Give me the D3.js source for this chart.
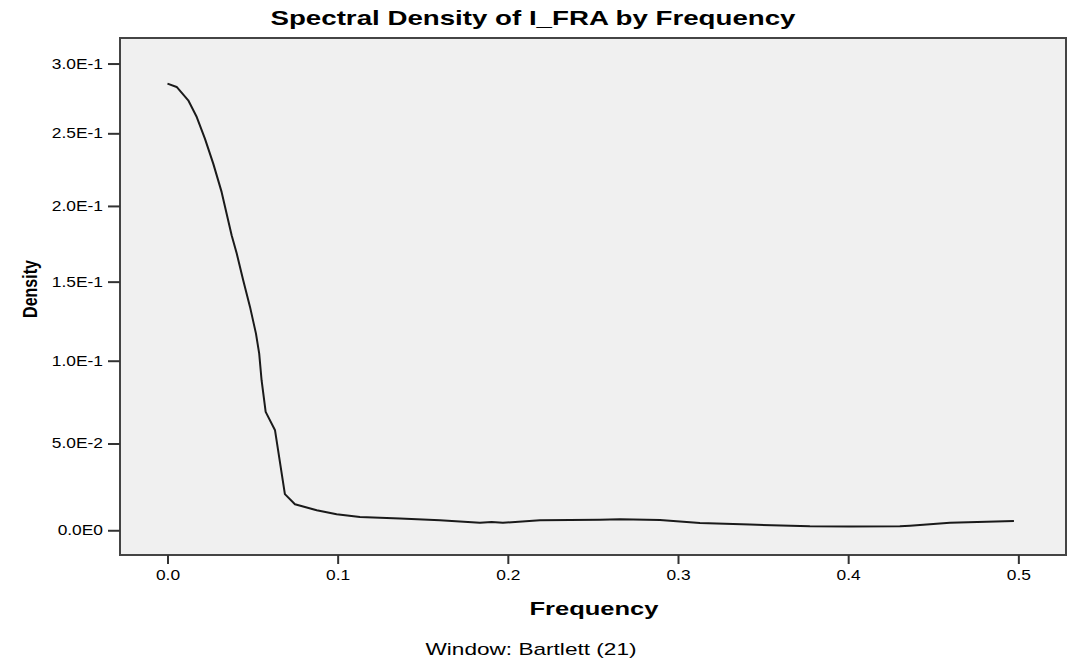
<!DOCTYPE html>
<html>
<head>
<meta charset="utf-8">
<style>
  body { margin: 0; background: #fff; }
  text { font-family: "Liberation Sans", Arial, sans-serif; fill: #000; }
</style>
</head>
<body>
<svg width="1067" height="663"></svg>
<script src="https://d3js.org/d3.v7.min.js"></script>
<script>
// values
var frequency = [0.000, 0.0054, 0.0122, 0.0172, 0.0220, 0.0269, 0.0318, 0.0377, 0.0407, 0.0445,
                 0.0485, 0.0520, 0.0539, 0.0553, 0.0577, 0.0632, 0.0690, 0.0749, 0.0877, 0.0994,
                 0.1131, 0.1366, 0.1601, 0.1836, 0.1905, 0.1971, 0.2189, 0.2541, 0.2659, 0.2894,
                 0.3129, 0.3422, 0.3775, 0.4010, 0.4304, 0.4363, 0.4598, 0.4974];
var density = [0.2854, 0.2830, 0.2734, 0.2615, 0.2463, 0.2289, 0.2095, 0.1804, 0.1683, 0.1509,
               0.1338, 0.1169, 0.1044, 0.0880, 0.0688, 0.0578, 0.0205, 0.0147, 0.0113, 0.0090,
               0.0075, 0.0066, 0.0056, 0.0042, 0.0047, 0.0042, 0.0056, 0.0060, 0.0062, 0.0058,
               0.0041, 0.0032, 0.0022, 0.0021, 0.0022, 0.0026, 0.0043, 0.0052];
var xTicks = [0, 0.1, 0.2, 0.3, 0.4, 0.5];
var xTickLabels = ["0.0", "0.1", "0.2", "0.3", "0.4", "0.5"];
var yTicks = [0, 0.05, 0.1, 0.15, 0.2, 0.25, 0.3];
var yTickLabels = ["0.0E0", "5.0E-2", "1.0E-1", "1.5E-1", "2.0E-1", "2.5E-1", "3.0E-1"];

var svg = d3.select("svg");
var plot = {left: 120, top: 38, right: 1066, bottom: 555};

var x = d3.scaleLinear().domain([-0.0279, 0.528]).range([plot.left, plot.right]);
var y = d3.scaleSymlog().constant(1).domain([-0.014, 0.3188]).range([plot.bottom, plot.top]);

// widen text a bit, the reference is stretched sideways
function widen(sel, k) {
    sel.each(function() {
        var w = this.getComputedTextLength();
        d3.select(this).attr("textLength", w * k).attr("lengthAdjust", "spacingAndGlyphs");
    });
}

svg.append("rect")
    .attr("x", plot.left).attr("y", plot.top)
    .attr("width", plot.right - plot.left).attr("height", plot.bottom - plot.top)
    .attr("fill", "#f0f0f0");

var line = d3.line()
    .x(function(d, i) { return x(frequency[i]); })
    .y(function(d) { return y(d); });

svg.append("path")
    .datum(density)
    .attr("d", line)
    .attr("fill", "none")
    .attr("stroke", "#1a1a1a")
    .attr("stroke-width", 2)
    .attr("stroke-linejoin", "round");

svg.append("rect")
    .attr("x", plot.left).attr("y", plot.top)
    .attr("width", plot.right - plot.left).attr("height", plot.bottom - plot.top)
    .attr("fill", "none")
    .attr("stroke", "#444")
    .attr("stroke-width", 2);

var yAxis = svg.append("g")
    .attr("transform", "translate(" + plot.left + ",0)")
    .call(d3.axisLeft(y).tickValues(yTicks)
        .tickFormat(function(d, i) { return yTickLabels[i]; })
        .tickSize(12).tickPadding(5));
var xAxis = svg.append("g")
    .attr("transform", "translate(0," + plot.bottom + ")")
    .call(d3.axisBottom(x).tickValues(xTicks)
        .tickFormat(function(d, i) { return xTickLabels[i]; })
        .tickSize(9).tickPadding(6));

[xAxis, yAxis].forEach(function(ax) {
    ax.select(".domain").remove();
    ax.selectAll(".tick line").attr("stroke", "#333").attr("stroke-width", 2);
    ax.selectAll(".tick text")
        .attr("fill", "#1a1a1a")
        .style("font-size", "14px")
        .style("font-family", "'Liberation Sans', Arial, sans-serif");
    widen(ax.selectAll(".tick text"), 1.24);
});

svg.append("text")
    .attr("x", 533).attr("y", 25)
    .attr("text-anchor", "middle")
    .style("font-size", "21px").style("font-weight", "bold")
    .text("Spectral Density of I_FRA by Frequency")
    .attr("textLength", 525).attr("lengthAdjust", "spacingAndGlyphs");

svg.append("text")
    .attr("x", 594).attr("y", 615)
    .attr("text-anchor", "middle")
    .style("font-size", "19px").style("font-weight", "bold")
    .text("Frequency")
    .attr("textLength", 129).attr("lengthAdjust", "spacingAndGlyphs");

svg.append("text")
    .attr("transform", "translate(37,289) rotate(-90) scale(1,1.3)")
    .attr("text-anchor", "middle")
    .style("font-size", "16px").style("font-weight", "bold")
    .text("Density");

svg.append("text")
    .attr("x", 531).attr("y", 655)
    .attr("text-anchor", "middle")
    .style("font-size", "17px")
    .attr("fill", "#1a1a1a")
    .text("Window: Bartlett (21)")
    .attr("textLength", 211).attr("lengthAdjust", "spacingAndGlyphs");
</script>
</body>
</html>
